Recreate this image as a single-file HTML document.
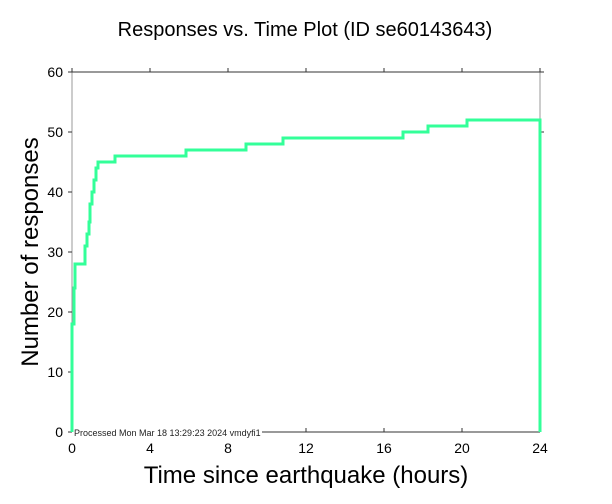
<!DOCTYPE html>
<html><head><style>body{margin:0;background:#fff}svg{display:block}</style></head><body>
<svg width="612" height="504" xmlns="http://www.w3.org/2000/svg" font-family="Liberation Sans, sans-serif">
<rect width="612" height="504" fill="#fff"/>
<text x="305" y="36" font-size="20" text-anchor="middle">Responses vs. Time Plot (ID se60143643)</text>
<line x1="72" y1="72" x2="72" y2="432" stroke="#999" stroke-width="1"/>
<line x1="540" y1="72" x2="540" y2="432" stroke="#999" stroke-width="1"/>
<line x1="72" y1="72" x2="540" y2="72" stroke="#333" stroke-width="1"/>
<line x1="262" y1="432" x2="540" y2="432" stroke="#333" stroke-width="1"/>
<g stroke="#333" stroke-width="1">
<line x1="72" y1="68" x2="72" y2="72"/><line x1="150" y1="68" x2="150" y2="72"/><line x1="228" y1="68" x2="228" y2="72"/><line x1="306" y1="68" x2="306" y2="72"/><line x1="384" y1="68" x2="384" y2="72"/><line x1="462" y1="68" x2="462" y2="72"/><line x1="540" y1="68" x2="540" y2="72"/>
<line x1="306" y1="428" x2="306" y2="432"/><line x1="384" y1="428" x2="384" y2="432"/><line x1="462" y1="428" x2="462" y2="432"/><line x1="540" y1="428" x2="540" y2="432"/>
<line x1="68" y1="72" x2="72" y2="72"/><line x1="68" y1="132" x2="72" y2="132"/><line x1="68" y1="192" x2="72" y2="192"/><line x1="68" y1="252" x2="72" y2="252"/><line x1="68" y1="312" x2="72" y2="312"/><line x1="68" y1="372" x2="72" y2="372"/><line x1="68" y1="432" x2="72" y2="432"/>
<line x1="540" y1="72" x2="544" y2="72"/><line x1="540" y1="132" x2="544" y2="132"/>
</g>
<g font-size="14" text-anchor="end">
<text x="63" y="77">60</text><text x="63" y="137">50</text><text x="63" y="197">40</text><text x="63" y="257">30</text><text x="63" y="317">20</text><text x="63" y="377">10</text><text x="63" y="437">0</text>
</g>
<g font-size="14" text-anchor="middle">
<text x="72" y="453">0</text><text x="150" y="453">4</text><text x="228" y="453">8</text><text x="306" y="453">12</text><text x="384" y="453">16</text><text x="462" y="453">20</text><text x="540" y="453">24</text>
</g>
<text x="306" y="483" font-size="24" text-anchor="middle">Time since earthquake (hours)</text>
<text transform="translate(38,252) rotate(-90)" font-size="24" text-anchor="middle">Number of responses</text>
<text x="74" y="436" font-size="9" fill="#222">Processed Mon Mar 18 13:29:23 2024 vmdyfi1</text>
<polyline fill="none" stroke="#33ff99" stroke-width="3" points="72,432 72,324 74,324 74,288 75,288 75,264 85,264 85,246 87,246 87,234 89,234 89,222 90,222 90,204 92,204 92,192 94,192 94,180 96,180 96,168 98,168 98,162 115,162 115,156 186,156 186,150 246,150 246,144 283,144 283,138 403,138 403,132 428,132 428,126 467,126 467,120 540,120 540,432"/>
</svg>
</body></html>
